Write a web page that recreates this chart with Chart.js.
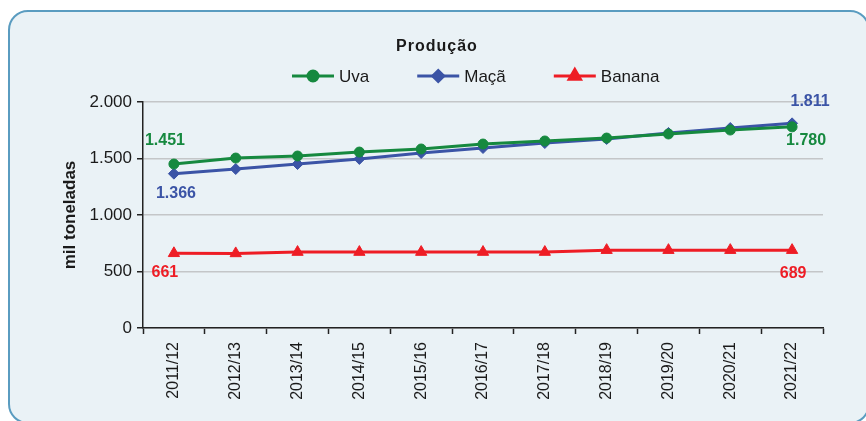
<!DOCTYPE html>
<html>
<head>
<meta charset="utf-8">
<script src="https://cdn.jsdelivr.net/npm/chart.js@4"></script>
<style>
  html, body { margin: 0; padding: 0; background: #fff; }
  #wrap { position: relative; width: 866px; height: 421px; overflow: hidden; }
  #card { position: absolute; left: 8px; top: 10px; width: 862px; height: 414px; box-sizing: border-box;
          border: 2px solid #5a9cc0; border-radius: 20px; background: #eaf2f6; }
  #c { position: absolute; left: 0; top: 0; }
</style>
</head>
<body>
<div id="wrap">
  <div id="card"></div>
  <canvas id="c" width="866" height="421"></canvas>
</div>
<script>
// dados
const safras = ['2011/12', '2012/13', '2013/14', '2014/15', '2015/16', '2016/17', '2017/18', '2018/19', '2019/20', '2020/21', '2021/22'];
const uva = [1451, 1504, 1522, 1557, 1584, 1628, 1655, 1681, 1717, 1752, 1780];
const maca = [1366, 1407, 1451, 1496, 1549, 1593, 1637, 1673, 1726, 1770, 1811];
const banana = [661, 660, 672, 672, 672, 672, 672, 689, 689, 689, 689];
const yTicks = [0, 500, 1000, 1500, 2000];

const FONT = "'Liberation Sans', Arial, sans-serif";
const fmt = v => v.toLocaleString('pt-BR');

// rótulos do primeiro e último ponto: [dataset, índice, dx, dy]
const pointLabels = [
  [0, 0, -9, -23], [1, 0, 2, 20], [2, 0, -9, 19],
  [1, 10, 18, -22], [0, 10, 14, 14], [2, 10, 1, 23]
];

const labelPlugin = {
  id: 'pointLabels',
  afterDatasetsDraw(chart) {
    const { ctx } = chart;
    ctx.save();
    ctx.font = 'bold 16px ' + FONT;
    ctx.textAlign = 'center'; ctx.textBaseline = 'middle';
    pointLabels.forEach(([d, i, dx, dy]) => {
      const ds = chart.data.datasets[d];
      const p = chart.getDatasetMeta(d).data[i];
      ctx.fillStyle = ds.borderColor;
      ctx.fillText(fmt(ds.data[i]), p.x + dx, p.y + dy);
    });
    ctx.restore();
  }
};

const headerPlugin = {
  id: 'header',
  afterDraw(chart) {
    const { ctx } = chart;
    ctx.save();
    ctx.fillStyle = '#1a1a1a';
    ctx.font = 'bold 16px ' + FONT;
    ctx.letterSpacing = '1px';
    ctx.textAlign = 'center'; ctx.textBaseline = 'middle';
    ctx.fillText('Produção', 437, 47);
    ctx.letterSpacing = '0px';
    // legenda
    ctx.font = '17px ' + FONT;
    ctx.textAlign = 'left';
    let x = 292;
    const y = 76;
    chart.data.datasets.forEach(ds => {
      ctx.strokeStyle = ds.borderColor; ctx.lineWidth = 3;
      ctx.beginPath(); ctx.moveTo(x, y); ctx.lineTo(x + 42, y); ctx.stroke();
      ctx.fillStyle = ds.borderColor;
      Chart.helpers.drawPoint(ctx, { pointStyle: ds.pointStyle, radius: ds.pointRadius, borderWidth: 1 }, x + 21, y);
      ctx.fillStyle = '#1a1a1a';
      ctx.fillText(ds.label, x + 47, y + 1);
      x += 47 + ctx.measureText(ds.label).width + 48;
    });
    ctx.restore();
  }
};

function serie(label, data, color, style, r) {
  return { label, data, borderColor: color, backgroundColor: color, pointBackgroundColor: color, pointBorderColor: color,
           borderWidth: 3, pointBorderWidth: 1, pointStyle: style, pointRadius: r, pointHoverRadius: r, tension: 0 };
}

new Chart(document.getElementById('c'), {
  type: 'line',
  data: {
    labels: safras,
    datasets: [
      serie('Uva', uva, '#16893f', 'circle', 5),
      serie('Maçã', maca, '#3b54a6', 'rectRot', 5.5),
      serie('Banana', banana, '#ee1d25', 'triangle', 6.5)
    ]
  },
  options: {
    animation: false, responsive: false, maintainAspectRatio: false,
    layout: { padding: { left: 54, right: 43, top: 102, bottom: 0 } },
    plugins: { legend: { display: false }, tooltip: { enabled: false }, title: { display: false } },
    scales: {
      x: {
        offset: true,
        grid: { offset: true, drawOnChartArea: false, drawTicks: true, tickLength: 6, tickColor: '#222', tickWidth: 1.5 },
        border: { color: '#222', width: 1.5 },
        ticks: { minRotation: 90, maxRotation: 90, autoSkip: false, padding: 8, color: '#1a1a1a', font: { family: FONT, size: 16 } },
        afterFit(s) { s.height = 421 - 328; }
      },
      y: {
        min: 0, max: 2000,
        afterBuildTicks(s) { s.ticks = yTicks.map(v => ({ value: v })); },
        grid: { color: '#c4c6c8', lineWidth: 1.5, tickColor: '#222', tickLength: 6, tickWidth: 1.5 },
        border: { color: '#222', width: 1.5 },
        ticks: { padding: 5, color: '#1a1a1a', font: { family: FONT, size: 17 }, callback: v => fmt(v) },
        title: { display: true, text: 'mil toneladas', color: '#1a1a1a', padding: 6, font: { family: FONT, size: 17, weight: 'bold' } },
        afterFit(s) { s.width = 143 - 54; }
      }
    }
  },
  plugins: [labelPlugin, headerPlugin]
});
</script>
</body>
</html>
